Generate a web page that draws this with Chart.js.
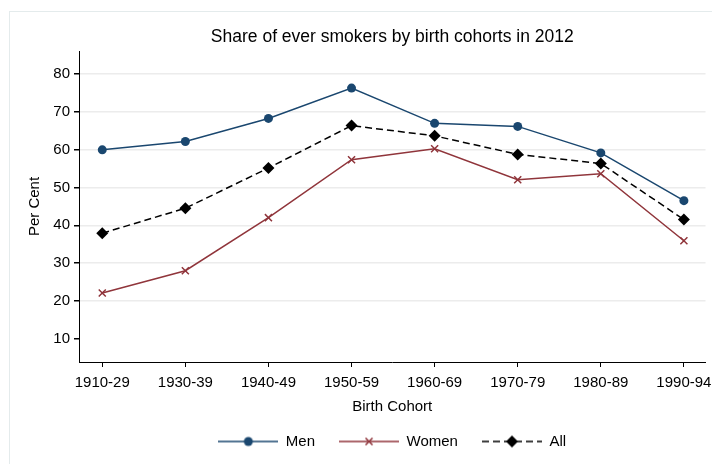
<!DOCTYPE html>
<html lang="en">
<head>
<meta charset="utf-8">
<title>Share of ever smokers by birth cohorts in 2012</title>
<script src="https://cdn.jsdelivr.net/npm/chart.js"></script>
<style>
  html, body { margin: 0; padding: 0; background: #fff; }
</style>
</head>
<body>
<canvas id="smokers" width="712" height="464"></canvas>
<script>
// data
const cohorts = ['1910-29', '1930-39', '1940-49', '1950-59', '1960-69', '1970-79', '1980-89', '1990-94'];
const men = [59.9, 62.1, 68.2, 76.2, 66.9, 66.1, 59.1, 46.5];
const women = [22.1, 28.0, 42.0, 57.3, 60.2, 52.0, 53.6, 35.9];
const all = [37.9, 44.5, 55.1, 66.3, 63.6, 58.7, 56.3, 41.5];
const yTicks = [10, 20, 30, 40, 50, 60, 70, 80];

const navy = '#1a476f';
const maroon = '#90353b';
const font = 'Liberation Sans, Arial, Helvetica, sans-serif';

function points(vals) {
    return vals.map((v, i) => ({ x: i, y: v }));
}

// little line+marker pictures for the legend keys
function legendKey(color, dash, marker) {
    const c = document.createElement('canvas');
    c.width = 60; c.height = 14;
    const g = c.getContext('2d');
    g.strokeStyle = color;
    g.fillStyle = color;
    g.lineWidth = 1.5;
    g.setLineDash(dash);
    g.beginPath();
    g.moveTo(0, 7); g.lineTo(60, 7);
    g.stroke();
    g.setLineDash([]);
    marker(g, 30, 7);
    return c;
}

const keyMen = legendKey(navy, [], (g, x, y) => {
    g.beginPath(); g.arc(x, y, 4.5, 0, Math.PI * 2); g.fill();
});
const keyWomen = legendKey(maroon, [], (g, x, y) => {
    g.beginPath();
    g.moveTo(x - 3.5, y - 3.5); g.lineTo(x + 3.5, y + 3.5);
    g.moveTo(x + 3.5, y - 3.5); g.lineTo(x - 3.5, y + 3.5);
    g.stroke();
});
const keyAll = legendKey('#000', [7, 4], (g, x, y) => {
    g.beginPath();
    g.moveTo(x, y - 6); g.lineTo(x + 6, y); g.lineTo(x, y + 6); g.lineTo(x - 6, y);
    g.closePath(); g.fill();
});
const keys = [keyMen, keyWomen, keyAll];

// outer frame and the title centred over the plot
const frame = {
    id: 'frame',
    beforeDraw(chart) {
        const ctx = chart.ctx;
        ctx.save();
        ctx.fillStyle = '#fff';
        ctx.fillRect(0, 0, chart.width, chart.height);
        ctx.strokeStyle = '#e4ebec';
        ctx.lineWidth = 1;
        ctx.strokeRect(9.5, 11.5, 800, 800);
        ctx.restore();
    },
    afterDraw(chart) {
        const ctx = chart.ctx;
        const a = chart.chartArea;
        ctx.save();
        ctx.fillStyle = '#000';
        ctx.font = '17.5px ' + font;
        ctx.textAlign = 'center';
        ctx.textBaseline = 'middle';
        ctx.fillText('Share of ever smokers by birth cohorts in 2012', (a.left + a.right) / 2, 37);
        ctx.restore();
    }
};

const ctx = document.getElementById('smokers').getContext('2d');
const chart = new Chart(ctx, {
    type: 'line',
    data: {
        datasets: [{
            label: 'Men',
            data: points(men),
            borderColor: navy,
            backgroundColor: navy,
            borderWidth: 1.5,
            pointStyle: 'circle',
            pointRadius: 4.5,
            pointBorderWidth: 0,
            tension: 0
        }, {
            label: 'Women',
            data: points(women),
            borderColor: maroon,
            backgroundColor: maroon,
            borderWidth: 1.5,
            pointStyle: 'crossRot',
            pointRadius: 5,
            pointBorderWidth: 1.5,
            tension: 0
        }, {
            label: 'All',
            data: points(all),
            borderColor: '#000',
            backgroundColor: '#000',
            borderWidth: 1.5,
            borderDash: [7, 4],
            pointStyle: 'rectRot',
            pointRadius: 6,
            pointBorderWidth: 0,
            tension: 0
        }]
    },
    options: {
        responsive: false,
        animation: false,
        devicePixelRatio: 1,
        layout: { padding: { top: 51, left: 0, right: 0, bottom: 5 } },
        scales: {
            x: {
                type: 'linear',
                min: -0.28,
                max: 7.26,
                afterBuildTicks(scale) {
                    scale.ticks = cohorts.map((c, i) => ({ value: i }));
                },
                afterFit(scale) {
                    scale.height = 48;
                    scale.paddingLeft = 0;
                    scale.paddingRight = 0;
                },
                ticks: {
                    color: '#000',
                    font: { family: font, size: 15 },
                    padding: 7,
                    maxRotation: 0,
                    autoSkip: false,
                    callback: (v) => cohorts[v]
                },
                grid: { drawOnChartArea: false, tickLength: 5, tickColor: '#000' },
                border: { color: '#000', width: 1 },
                title: {
                    display: true,
                    text: 'Birth Cohort',
                    color: '#000',
                    font: { family: font, size: 15 },
                    padding: { top: 0, bottom: -6 }
                }
            },
            y: {
                min: 3.9,
                max: 86,
                afterBuildTicks(scale) {
                    scale.ticks = yTicks.map(v => ({ value: v }));
                },
                afterFit(scale) {
                    scale.width = 79;
                },
                ticks: {
                    color: '#000',
                    font: { family: font, size: 15 },
                    padding: 4
                },
                grid: {
                    color: (c) => (c.tick && c.tick.value === 10 ? 'rgba(0,0,0,0)' : '#ececec'),
                    lineWidth: 1.5,
                    tickLength: 5,
                    tickColor: '#000'
                },
                border: { color: '#000', width: 1 },
                title: {
                    display: true,
                    text: 'Per Cent',
                    color: '#000',
                    font: { family: font, size: 15 },
                    padding: { top: 26, bottom: 0 }
                }
            }
        },
        plugins: {
            title: { display: false },
            tooltip: { enabled: false },
            legend: {
                position: 'bottom',
                fullSize: false,
                labels: {
                    color: '#000',
                    font: { family: font, size: 15 },
                    usePointStyle: true,
                    pointStyleWidth: 60,
                    boxHeight: 14,
                    padding: 24,
                    generateLabels: (ch) => ch.data.datasets.map((d, i) => ({
                        text: d.label,
                        pointStyle: keys[i],
                        fillStyle: d.borderColor,
                        strokeStyle: d.borderColor,
                        lineWidth: 0,
                        fontColor: '#000',
                        hidden: false,
                        datasetIndex: i
                    }))
                }
            }
        }
    },
    plugins: [frame]
});
</script>
</body>
</html>
